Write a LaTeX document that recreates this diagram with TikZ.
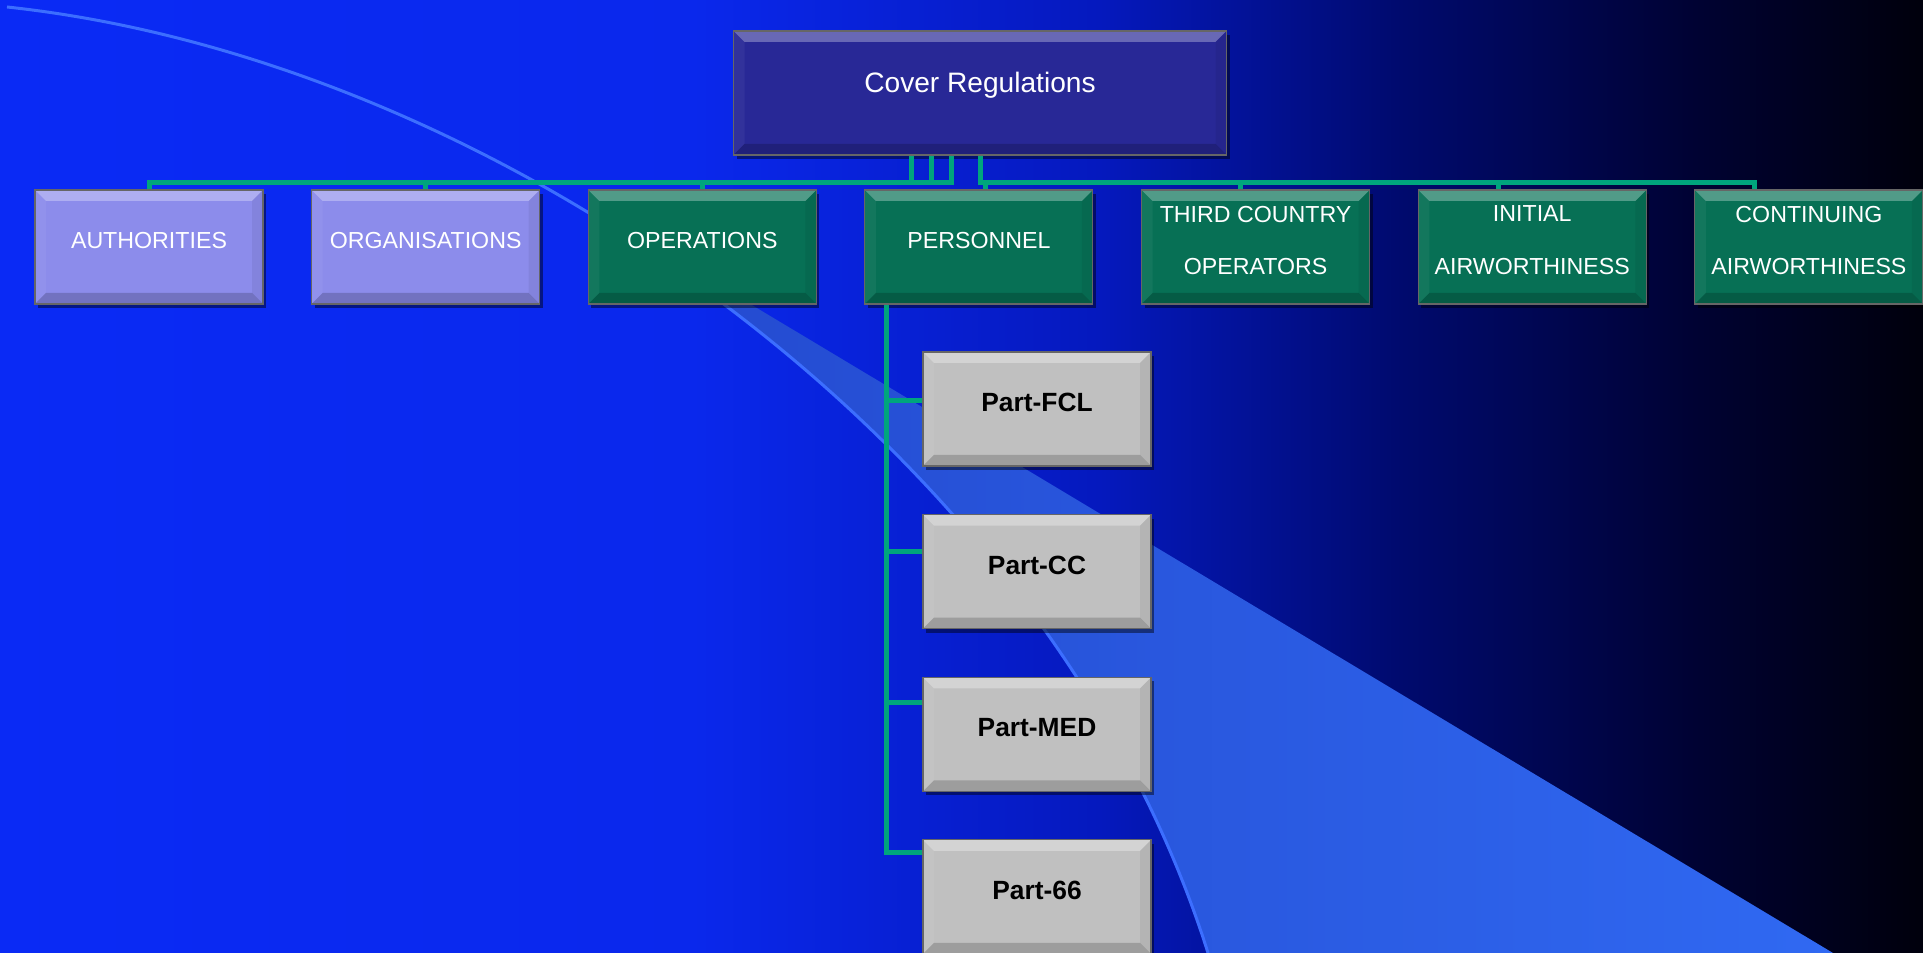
\documentclass[tikz,border=0pt]{standalone}
\usepackage{fontspec}
\setmainfont{Liberation Sans}
\usetikzlibrary{positioning,shadows}

\definecolor{coverfill}{RGB}{40,40,150}
\definecolor{lilacfill}{RGB}{140,140,235}
\definecolor{greenfill}{RGB}{7,112,85}
\definecolor{greyfill}{RGB}{192,192,192}
\definecolor{linkgreen}{RGB}{0,165,125}
\definecolor{swoosh}{RGB}{60,110,255}
\definecolor{wedgeA}{RGB}{35,72,205}
\definecolor{wedgeB}{RGB}{48,105,242}
\definecolor{bgA}{RGB}{10,42,245}
\definecolor{bgB}{RGB}{10,40,236}
\definecolor{bgC}{RGB}{5,25,190}
\definecolor{bgD}{RGB}{0,10,110}
\definecolor{bgE}{RGB}{0,2,50}
\definecolor{bgF}{RGB}{0,0,12}

\pgfdeclarehorizontalshading{slidebg}{100bp}{color(0bp)=(bgA); color(25bp)=(bgA);
  color(43bp)=(bgB); color(53.6bp)=(bgC); color(61.4bp)=(bgD); color(69.2bp)=(bgE);
  color(75bp)=(bgF); color(100bp)=(bgF)}

\begin{document}
\begin{tikzpicture}[
  x=0.1mm, y=-0.1mm,
  every node/.style={draw=black!60, line width=0.3pt, rectangle, minimum width=22.8mm,
    minimum height=11.4mm, inner sep=0pt, text=white, align=center, bevel,
    text depth=3.8pt, font=\fontsize{6.6pt}{15pt}\selectfont,
    drop shadow={shadow xshift=0.3mm, shadow yshift=-0.4mm, opacity=0.45, fill=black}},
  node distance=4.76mm
]
\tikzset{
  bevel/.style={path picture={
    \coordinate (bnw) at (path picture bounding box.north west);
    \coordinate (bne) at (path picture bounding box.north east);
    \coordinate (bsw) at (path picture bounding box.south west);
    \coordinate (bse) at (path picture bounding box.south east);
    \fill[white, opacity=.3] (bnw) -- (bne) -- ([shift={(-1.1mm,-1.1mm)}]bne) -- ([shift={(1.1mm,-1.1mm)}]bnw) -- cycle;
    \fill[white, opacity=.05] (bnw) -- (bsw) -- ([shift={(1.1mm,1.1mm)}]bsw) -- ([shift={(1.1mm,-1.1mm)}]bnw) -- cycle;
    \fill[black, opacity=.06] (bne) -- (bse) -- ([shift={(-1.1mm,1.1mm)}]bse) -- ([shift={(-1.1mm,-1.1mm)}]bne) -- cycle;
    \fill[black, opacity=.18] (bsw) -- (bse) -- ([shift={(-1.1mm,1.1mm)}]bse) -- ([shift={(1.1mm,1.1mm)}]bsw) -- cycle;
  }},
  coverbox/.style={fill=coverfill, minimum width=49.3mm, minimum height=12.4mm,
    text depth=6pt, font=\fontsize{8pt}{10pt}\selectfont},
  lilacbox/.style={fill=lilacfill},
  greenbox/.style={fill=greenfill},
  greybox/.style={fill=greyfill, text=black, font=\fontsize{7.5pt}{9pt}\selectfont\bfseries},
  link/.style={draw=linkgreen, line width=0.5mm}
}
% slide background
\shade[shading=slidebg] (0,0) rectangle (1923,953);
\useasboundingbox (0,0) rectangle (1923,953);
\begin{scope}
  \clip (7,7) .. controls (500,60) and (1050,450) .. (1208,953) -- (1923,953) -- (1923,0) -- cycle;
  \shade[left color=wedgeA, right color=wedgeB] (590,208) -- (1833,953) -- (590,953) -- cycle;
\end{scope}
\draw[draw=swoosh, line width=0.3mm] (7,7) .. controls (500,60) and (1050,450) .. (1208,953);

\node[coverbox] (cover) at (980,93) {Cover Regulations};
\node[lilacbox] (auth) at (149,247) {AUTHORITIES};
\node[lilacbox, right=of auth] (orgs) {ORGANISATIONS};
\node[greenbox, right=of orgs] (ops) {OPERATIONS};
\node[greenbox, right=of ops] (pers) {PERSONNEL};
\node[greenbox, right=of pers] (third) {THIRD COUNTRY\\OPERATORS};
\node[greenbox, right=of third] (initial) {INITIAL\\AIRWORTHINESS};
\node[greenbox, right=of initial] (cont) {CONTINUING\\AIRWORTHINESS};

\node[greybox] (fcl) at (1037,409) {Part-FCL};
\node[greybox, below=of fcl] (cc) {Part-CC};
\node[greybox, below=of cc] (med) {Part-MED};
\node[greybox, below=of med] (p66) {Part-66};

\draw[link] ([xshift=-6.9mm]cover.south) -- ++(0,27) -| (auth.north);
\draw[link] ([xshift=-4.9mm]cover.south) -- ++(0,27) -| (orgs.north);
\draw[link] ([xshift=-2.9mm]cover.south) -- ++(0,27) -| (ops.north);
\draw[link] (cover.south) -- ++(0,27) -| ([xshift=0.7mm]pers.north);
\draw[link] (cover.south) -- ++(0,27) -| ([xshift=-1.5mm]third.north);
\draw[link] (cover.south) -- ++(0,27) -| ([xshift=-3.4mm]initial.north);
\draw[link] (cover.south) -- ++(0,27) -| ([xshift=-5.4mm]cont.north);

% personnel sub-parts
\draw[link] ([xshift=2.2mm]pers.south west) |- ([yshift=0.8mm]fcl.west);
\draw[link] ([xshift=2.2mm]pers.south west) |- ([yshift=2.0mm]cc.west);
\draw[link] ([xshift=2.2mm]pers.south west) |- ([yshift=3.2mm]med.west);
\draw[link] ([xshift=2.2mm]pers.south west) |- ([yshift=4.4mm]p66.west);
\end{tikzpicture}
\end{document}
